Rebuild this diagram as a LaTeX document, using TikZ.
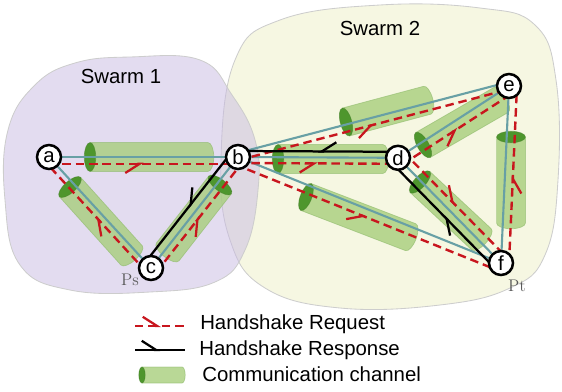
\documentclass[tikz,border=0pt]{standalone}
\usepackage{fontspec}
\setsansfont{Liberation Sans}
\usetikzlibrary{calc,arrows.meta,decorations.markings,backgrounds}

\definecolor{swarmlilac}{RGB}{200,186,226}
\definecolor{swarmcream}{RGB}{246,247,226}
\definecolor{blobedge}{RGB}{205,205,205}
\definecolor{linkteal}{RGB}{104,160,165}
\definecolor{reqred}{RGB}{200,22,30}
\definecolor{chanfill}{RGB}{168,206,124}
\definecolor{chanedge}{RGB}{140,185,105}
\definecolor{chanend}{RGB}{78,150,45}

\tikzset{
  peer/.style={circle, draw, line width=1.8pt, fill=white, minimum size=0.6cm,
    inner sep=0pt, font=\sffamily\fontsize{14.5}{14}\selectfont},
  swarmtext/.style={font=\sffamily\fontsize{14.5}{16}\selectfont, inner sep=0pt},
  endpoint/.style={font=\fontsize{12}{12}\selectfont, text=black!65},
  link/.style={draw=linkteal, line width=1.5pt},
  request/.style={draw=reqred, line width=1.7pt, dash pattern=on 6pt off 3.5pt},
  response/.style={draw=black, line width=1.6pt},
  barbR/.tip={Straight Barb[harpoon, swap, length=3.6mm, width=4.6mm, line width=1.6pt]},
  barbL/.tip={Straight Barb[harpoon, length=3.6mm, width=4.6mm, line width=1.6pt]},
  midR/.style={postaction={decorate}, decoration={markings,
    mark=at position 0.5 with {\pgfsetdash{}{0pt}\arrow{barbR}}}},
  midL/.style={postaction={decorate}, decoration={markings,
    mark=at position 0.5 with {\pgfsetdash{}{0pt}\arrow{barbL}}}},
  chanbody/.style={fill=chanfill, fill opacity=0.8, draw=chanedge, draw opacity=0.6, line width=0.5pt},
  chancap/.style={fill=chanend, draw=chanend!80!black, draw opacity=0.4, line width=0.5pt},
}

% channel: [radius]{x}{y}{angle}{length}
\newcommand{\channel}[5][0.36]{%
  \begin{scope}[shift={(#2,#3)}, rotate=#4]
    \path[chanbody] (0,-#1) -- (#5,-#1)
      arc[start angle=-90, end angle=90, x radius=0.4*#1, y radius=#1] -- (0,#1) -- cycle;
    \path[chancap] (0,0) ellipse [x radius=0.4*#1, y radius=#1];
  \end{scope}}

\begin{document}
\begin{tikzpicture}
  \useasboundingbox (0,0) rectangle (14.05,9.775);

  % peers
  \node[peer] (a) at (1.225,5.85) {a};
  \node[peer] (b) at (5.95,5.85) {b};
  \node[peer] (c) at (3.775,3.075) {c};
  \node[peer] (d) at (9.95,5.83) {d};
  \node[peer] (e) at (12.725,7.625) {e};
  \node[peer] (f) at (12.525,3.2) {f};

  \node[endpoint] (ps) at (3.25,2.775) {Ps};
  \node[endpoint] (pt) at (12.925,2.625) {Pt};

  \node[swarmtext] (swarmA) at (3.025,7.875) {Swarm 1};
  \node[swarmtext] (swarmB) at (9.5,9.075) {Swarm 2};

  \begin{scope}[on background layer]
    % swarm regions
    \draw[fill=swarmcream, draw=blobedge, line width=0.6pt]
      plot[smooth cycle, tension=0.7] coordinates {(5.875,8.275) (7.0,9.275) (9.5,9.65)
        (12.0,9.575) (13.375,9.15) (13.9,7.775) (13.95,5.275) (13.625,3.4) (12.75,2.575)
        (11.0,2.15) (8.5,2.075) (6.625,2.575) (5.75,3.775) (5.525,5.775)};
    \draw[fill=swarmlilac, fill opacity=0.5, draw=blobedge, line width=0.6pt]
      plot[smooth cycle, tension=0.7] coordinates {(3.25,8.35) (5.0,8.275) (5.8,7.4)
        (6.375,6.275) (6.45,5.025) (6.125,3.525) (5.375,2.725) (3.75,2.475) (1.75,2.525)
        (0.5,3.15) (0.125,4.775) (0.2,6.525) (0.875,7.65) (1.875,8.2)};

    % channels
    \channel{2.25}{5.85}{0}{2.95}
    \channel{1.75}{5.1}{-48}{2.3}
    \channel{5.5}{5.15}{-128}{2.125}
    \channel{6.95}{5.8}{0}{2.625}
    \channel{8.65}{6.725}{15}{2.1}
    \channel{10.575}{6.15}{30}{2.25}
    \channel{7.65}{4.85}{-21}{2.8}
    \channel{10.5}{5.225}{-43}{2.1}
    \channel{12.775}{6.35}{-90}{2.15}

    % links
    \foreach \from/\to in {a/b, a/c, c/b, b/d, d/e, b/f, d/f, e/f}
      \draw[link] (\from) -- (\to);
    \draw[link] ($(b)!-0.1cm!-90:(e)$) -- ($(e)!-0.1cm!90:(b)$);

    % handshake requests
    \foreach \from/\to/\off/\tip in {a/b/0.17/midR, c/a/-0.15/midL, c/b/0.17/midR,
        b/d/0.15/midR, b/e/0.08/midR, d/e/0.2/midR, b/f/0.2/midR, d/f/-0.2/midL, f/e/0.2/midR}
      \draw[request, \tip] ($(\from)!\off cm!-90:(\to)$) -- ($(\to)!\off cm!90:(\from)$);

    % handshake responses
    \foreach \from/\to/\off/\tip in {b/c/0.2/midR, d/b/0.15/midR, f/d/-0.2/midL}
      \draw[response, \tip] ($(\from)!\off cm!-90:(\to)$) -- ($(\to)!\off cm!90:(\from)$);
  \end{scope}

  % legend
  \node[swarmtext, anchor=west] (lreq) at (5.0,1.675) {Handshake Request};
  \node[swarmtext, anchor=west] (lresp) at (4.975,1.025) {Handshake Response};
  \node[swarmtext, anchor=west] (lchan) at (5.05,0.425) {Communication channel};
  \draw[request, midL] ($(lreq.west)+(-1.625,-0.05)$) -- ($(lreq.west)+(-0.325,-0.05)$);
  \draw[response, midL] ($(lresp.west)+(-1.6,0)$) -- ($(lresp.west)+(-0.35,0)$);
  \channel[0.2]{3.55}{0.4}{0}{1.0}
\end{tikzpicture}
\end{document}
